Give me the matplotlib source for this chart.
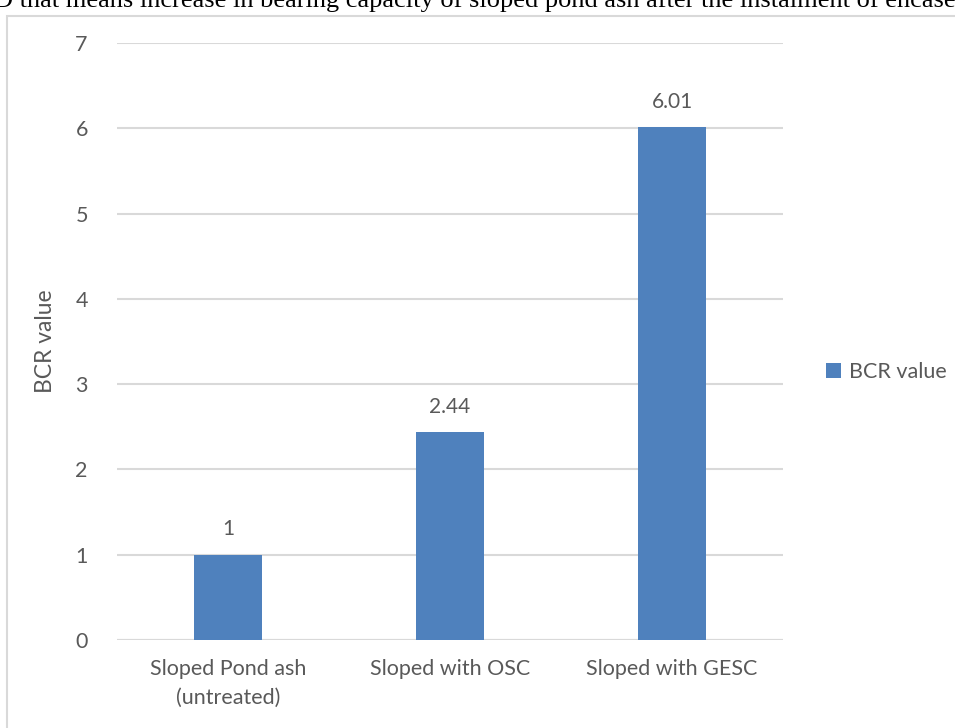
import matplotlib
matplotlib.use("Agg")
import matplotlib.pyplot as plt
from matplotlib.patches import Rectangle

categories = ["Sloped Pond ash\n(untreated)", "Sloped with OSC", "Sloped with GESC"]
bcr_values = [1, 2.44, 6.01]
bar_labels = ["1", "2.44", "6.01"]
y_ticks = [0, 1, 2, 3, 4, 5, 6, 7]

BAR_COLOR = "#4f81bd"
GRID_COLOR = "#d9d9d9"
TEXT_COLOR = "#595959"
FONT = ["Lato", "DejaVu Sans"]

plt.rcParams["font.family"] = FONT

fig = plt.figure(figsize=(9.55, 7.28), dpi=100)
ax = fig.add_axes([0.1225, 0.1209, 0.6974, 0.82])

x = list(range(len(categories)))
bars = ax.bar(x, bcr_values, width=0.31, color=BAR_COLOR, label="BCR value", zorder=3)

for rect, lab in zip(bars, bar_labels):
    ax.annotate(lab, (rect.get_x() + rect.get_width() / 2, rect.get_height()),
                xytext=(0, 11), textcoords="offset points", ha="center", va="bottom",
                fontsize=15, color=TEXT_COLOR)

ax.set_xlim(-0.5, len(categories) - 0.5)
ax.set_ylim(0, 7)
ax.set_yticks(y_ticks)
ax.set_xticks(x)
ax.set_xticklabels(categories, fontsize=15.5, color=TEXT_COLOR, linespacing=1.5)
ax.tick_params(axis="y", labelsize=15.5, labelcolor=TEXT_COLOR, length=0, pad=21)
ax.tick_params(axis="x", length=0, pad=14)
ax.yaxis.grid(True, color=GRID_COLOR, linewidth=1.5, zorder=0)
for s in ax.spines.values():
    s.set_visible(False)
ax.axhline(0, color=GRID_COLOR, linewidth=1.5, zorder=2)

ax.set_ylabel("BCR value", fontsize=16.5, color=TEXT_COLOR, labelpad=14)

leg = ax.legend(loc="center left", bbox_to_anchor=(1.035, 0.449), frameon=False,
                fontsize=15.5, handlelength=0.7, handleheight=0.7, handletextpad=0.4)
for t in leg.get_texts():
    t.set_color(TEXT_COLOR)

# chart frame (cut by the page edges)
fig.patches.append(Rectangle((7 / 955, -0.1), 1.2, 1 - 16 / 728 + 0.1,
                             transform=fig.transFigure, fill=False,
                             edgecolor=GRID_COLOR, linewidth=1.5))

# clipped line of body text above the chart
fig.text(-0.006, 1 - 7 / 728,
         "D that means increase in bearing capacity of sloped pond ash after the instalment of encased",
         fontsize=19, family=["Liberation Serif", "DejaVu Serif"], color="black",
         ha="left", va="baseline")

fig.savefig("out.png", dpi=100)
